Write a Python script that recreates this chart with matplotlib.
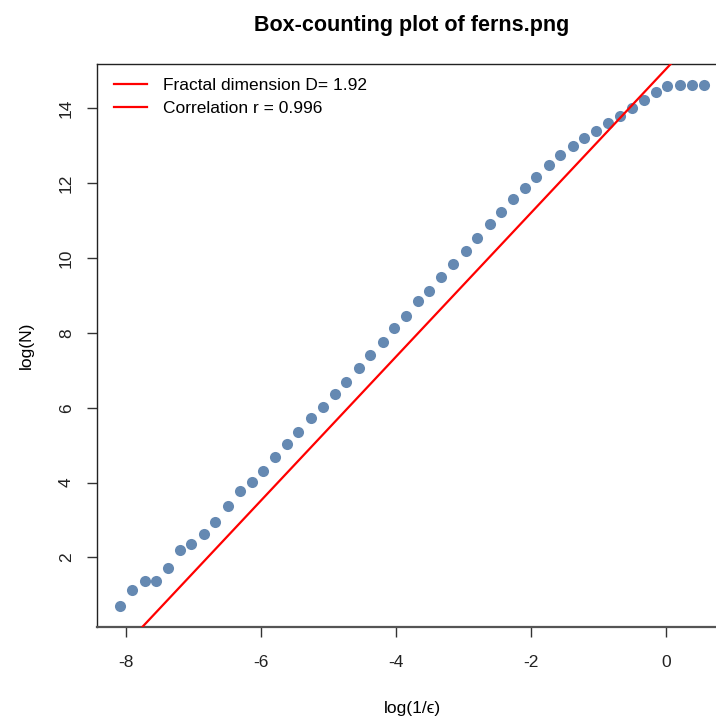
import matplotlib
matplotlib.use("Agg")
import matplotlib.pyplot as plt

plt.rcParams['font.family'] = ['Liberation Sans', 'DejaVu Sans']
plt.rcParams['axes.unicode_minus'] = False

# log(1/eps) values
log_inv_eps = [-8.09, -7.92, -7.73, -7.56, -7.39, -7.21, -7.04, -6.85, -6.68, -6.50,
               -6.32, -6.14, -5.97, -5.79, -5.62, -5.45, -5.27, -5.09, -4.91, -4.74,
               -4.55, -4.39, -4.20, -4.03, -3.86, -3.67, -3.51, -3.33, -3.15, -2.97,
               -2.80, -2.61, -2.44, -2.26, -2.09, -1.92, -1.73, -1.57, -1.38, -1.21,
               -1.03, -0.86, -0.68, -0.50, -0.33, -0.15, 0.02, 0.21, 0.38, 0.56]
# log(N)
log_n = [0.70, 1.12, 1.37, 1.37, 1.73, 2.21, 2.36, 2.62, 2.94, 3.37,
         3.77, 4.01, 4.32, 4.68, 5.02, 5.35, 5.72, 6.03, 6.36, 6.70,
         7.06, 7.42, 7.76, 8.13, 8.46, 8.85, 9.13, 9.50, 9.84, 10.19,
         10.54, 10.90, 11.24, 11.57, 11.87, 12.17, 12.48, 12.76, 13.00, 13.21,
         13.40, 13.61, 13.79, 14.01, 14.22, 14.43, 14.59, 14.63, 14.63, 14.63]

# regression line
slope = 1.92
intercept = 15.05
corr = 0.996

x_ticks = [-8, -6, -4, -2, 0]
y_ticks = [2, 4, 6, 8, 10, 12, 14]

fig = plt.figure(figsize=(7.16, 7.16), dpi=100)
ax = fig.add_axes([97 / 716, 1 - 627 / 716, 630 / 716, 563 / 716])

ax.scatter(log_inv_eps, log_n, s=64, color='#6589b2', zorder=3, linewidths=0)
ax.axline((0, intercept), slope=slope, color='red', lw=1.6, zorder=4)

# R style 4% padding
xr = max(log_inv_eps) - min(log_inv_eps)
yr = max(log_n) - min(log_n)
ax.set_xlim(min(log_inv_eps) - 0.04 * xr, max(log_inv_eps) + 0.04 * xr)
ax.set_ylim(min(log_n) - 0.04 * yr, max(log_n) + 0.04 * yr)

ax.set_xticks(x_ticks)
ax.set_yticks(y_ticks)
ax.tick_params(axis='both', length=7.5, width=1, color='#333333', labelsize=12.5,
               labelcolor='#222222')
ax.tick_params(axis='x', pad=13)
ax.tick_params(axis='y', pad=9)
for lab in ax.get_yticklabels():
    lab.set_rotation(90)
    lab.set_va('center')

for s in ax.spines.values():
    s.set_color('#222222')
    s.set_linewidth(1)
ax.spines['bottom'].set_color('#555555')
ax.spines['bottom'].set_linewidth(1.6)

ax.set_title("Box-counting plot of ferns.png", fontsize=15.5, fontweight='bold', pad=24)
ax.set_xlabel("log(1/ϵ)", fontsize=12.5, labelpad=22)
ax.set_ylabel("log(N)", fontsize=12.5, labelpad=18)

h1, = ax.plot([], [], color='red', lw=1.6)
h2, = ax.plot([], [], color='red', lw=1.6)
ax.legend([h1, h2], ["Fractal dimension D= %.2f" % slope, "Correlation r = %.3f" % corr],
          loc='upper left', frameon=False, fontsize=12.5, handlelength=1.95,
          handletextpad=0.9, borderaxespad=0.0, borderpad=0.3, labelspacing=0.45,
          bbox_to_anchor=(0.018, 0.985))

fig.savefig("out.png", dpi=100)
